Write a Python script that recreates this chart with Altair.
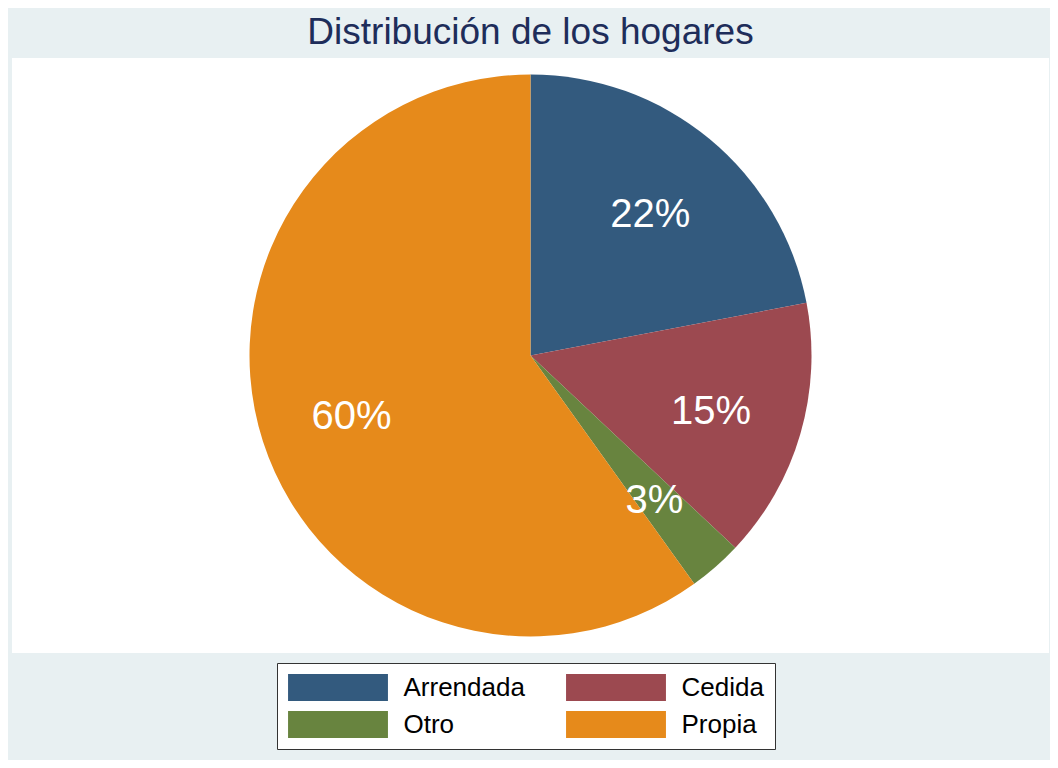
import altair as alt
import pandas as pd

# Data
categories = ["Arrendada", "Cedida", "Otro", "Propia"]
shares = [22.0, 15.0, 3.1, 59.9]
pct_labels = ["22%", "15%", "3%", "60%"]
order_idx = [0, 1, 2, 3]
colors = ["#335a7e", "#9c4950", "#68843f", "#e68a1b"]

df = pd.DataFrame({
    "tenencia": categories,
    "pct": shares,
    "etiqueta": pct_labels,
    "orden": order_idx,
})

FONT = "Liberation Sans"

legend = alt.Legend(
    title=None,
    orient="none",
    legendX=265,
    legendY=605,
    columns=2,
    direction="horizontal",
    symbolType="M-3.7,-1L3.7,-1L3.7,1L-3.7,1Z",
    symbolSize=729,
    symbolOffset=36.5,
    symbolStrokeWidth=0,
    symbolOpacity=1,
    labelFont=FONT,
    labelFontSize=26,
    labelColor="black",
    labelOffset=52,
    labelLimit=400,
    columnPadding=41,
    rowPadding=10,
    padding=11,
    strokeColor="#333333",
    fillColor="white",
)

color = alt.Color(
    "tenencia:N",
    scale=alt.Scale(domain=categories, range=colors),
    legend=legend,
)

base = alt.Chart(df).encode(
    theta=alt.Theta("pct:Q", stack=True),
    order=alt.Order("orden:Q"),
)

pie = base.mark_arc(radius=281, strokeWidth=0).encode(color=color)
text = base.mark_text(radius=188, fontSize=40, font=FONT, color="white", dy=4).encode(
    text="etiqueta:N"
)

chart = (
    (pie + text)
    .properties(
        width=1037,
        height=595,
        title=alt.TitleParams(
            "Distribución de los hogares",
            font=FONT,
            fontSize=37,
            fontWeight="normal",
            color="#1e2d5a",
            anchor="middle",
            frame="group",
            baseline="alphabetic",
            offset=-23,
        ),
        background="#e8f0f2",
        view=alt.ViewBackground(fill="white", strokeWidth=0),
        padding={"left": 4, "top": 50, "right": 1, "bottom": 107},
        autosize=alt.AutoSizeParams(type="none"),
    )
)

chart.save("out.html", embed_options={"renderer": "svg", "actions": False})
